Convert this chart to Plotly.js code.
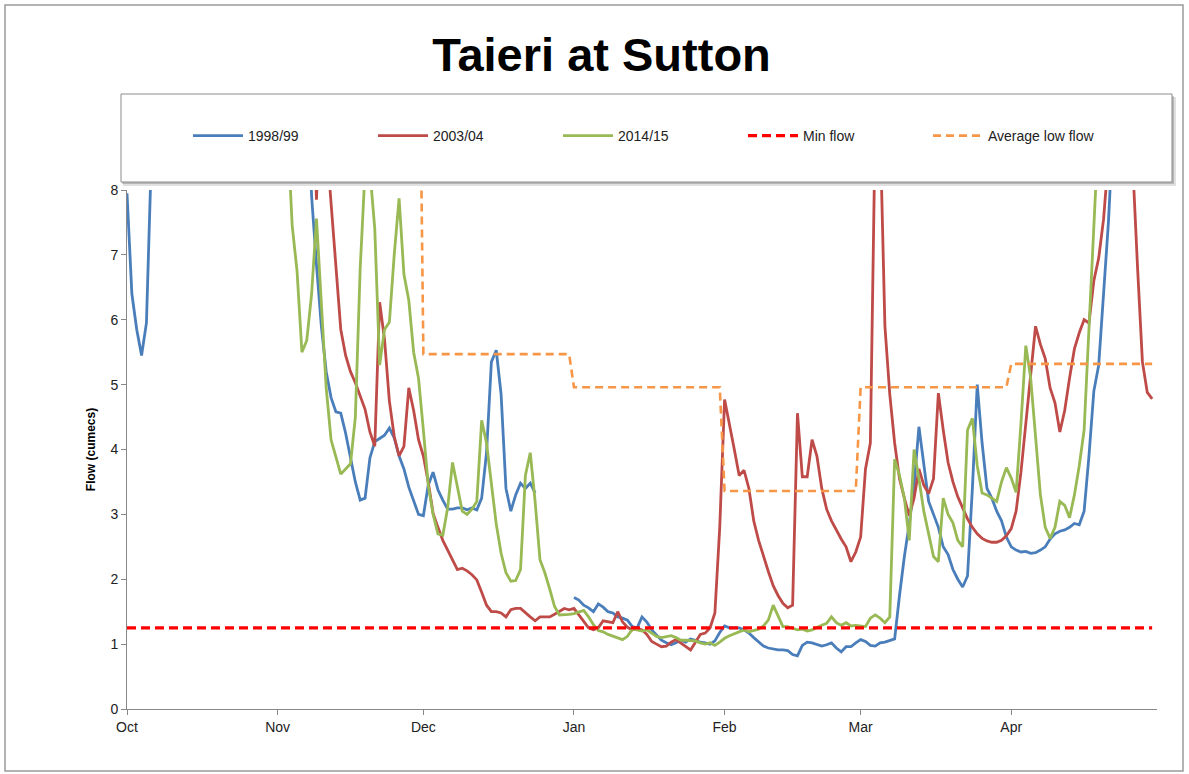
<!DOCTYPE html>
<html>
<head>
<meta charset="utf-8">
<script src="https://cdn.plot.ly/plotly-3.0.1.min.js"></script>
<style>
  html, body { margin: 0; padding: 0; background: #ffffff; }
  #chart { width: 1189px; height: 774px; }
</style>
</head>
<body>
<div id="chart"></div>
<script>
// ---- Data (daily flows, cumecs) - season day 0 = 1 Oct ----
// null = not shown / off the top of the chart (values above 8 are rough estimates of off-scale flow)
const seasonStart = [2000, 9, 1];   // common reference season Oct..Apr
const monthTicks = ['2000-10-01','2000-11-01','2000-12-01','2001-01-01','2001-02-01','2001-03-01','2001-04-01'];
const monthLabels = ['Oct','Nov','Dec','Jan','Feb','Mar','Apr'];
const axisEnd = '2001-05-01';

const flow1998 = [
  // Oct
  7.95,6.4,5.85,5.45,5.95,8.1,11,null,null,null,null,null,null,null,null,null,null,null,null,null,null,null,null,null,null,null,null,null,null,null,null,
  // Nov
  null,null,null,null,null,null,10,7.9,6.85,5.9,5.2,4.8,4.58,4.56,4.25,3.85,3.5,3.22,3.25,3.87,4.12,4.17,4.22,4.33,4.18,3.9,3.7,3.42,3.2,3.0,
  // Dec
  2.98,3.45,3.65,3.38,3.22,3.08,3.08,3.1,3.1,3.07,3.1,3.07,3.25,3.95,5.35,5.53,4.85,3.4,3.05,3.3,3.48,3.4,3.48,3.33,null,null,null,null,null,null,null,
  // Jan
  1.72,1.68,1.6,1.56,1.5,1.62,1.57,1.5,1.48,1.42,1.4,1.37,1.27,1.25,1.42,1.34,1.22,1.14,1.06,1.02,0.99,1.02,1.06,1.03,1.08,1.06,1.03,1.02,1.0,1.05,1.18,
  // Feb
  1.28,1.25,1.25,1.25,1.22,1.17,1.1,1.03,0.97,0.94,0.92,0.91,0.91,0.9,0.84,0.82,0.98,1.03,1.02,1.0,0.97,0.99,1.02,0.94,0.88,0.96,0.96,1.02,
  // Mar
  1.07,1.04,0.98,0.97,1.02,1.03,1.05,1.08,1.75,2.35,2.85,3.45,4.35,3.75,3.2,3.0,2.8,2.5,2.38,2.15,2.0,1.88,2.05,3.4,5.0,4.1,3.4,3.25,3.05,2.9,2.65,
  // Apr
  2.5,2.45,2.42,2.43,2.4,2.41,2.45,2.5,2.62,2.7,2.74,2.76,2.8,2.86,2.84,3.05,3.9,4.9,5.3,6.4,7.5,9.0,null,null,null,null,null,null,null,null
];

const flow2003 = [
  // Oct
  null,null,null,null,null,null,null,null,null,null,null,null,null,null,null,null,null,null,null,null,null,null,null,null,null,null,null,null,null,null,null,
  // Nov
  null,null,null,null,null,null,null,10,7.85,10,8.8,7.8,6.85,5.85,5.45,5.2,5.03,4.83,4.62,4.27,4.05,6.27,5.7,4.75,4.2,3.9,4.05,4.95,4.6,4.15,
  // Dec
  3.9,3.5,3.02,2.8,2.6,2.45,2.3,2.15,2.17,2.13,2.07,1.99,1.8,1.6,1.5,1.5,1.48,1.42,1.53,1.55,1.55,1.48,1.42,1.36,1.42,1.42,1.42,1.46,1.5,1.55,1.53,
  // Jan
  1.55,1.45,1.35,1.25,1.22,1.25,1.36,1.34,1.33,1.5,1.34,1.26,1.22,1.25,1.22,1.15,1.04,1.0,0.96,0.97,1.03,1.07,1.02,0.96,0.91,1.03,1.15,1.17,1.25,1.48,2.8,
  // Feb
  4.77,4.4,4.0,3.6,3.68,3.4,2.9,2.6,2.35,2.12,1.9,1.75,1.63,1.56,1.6,4.56,3.58,3.58,4.15,3.9,3.4,3.08,2.9,2.75,2.62,2.5,2.27,2.42,
  // Mar
  2.65,3.7,4.1,9.0,9.0,5.9,4.85,4.1,3.55,3.25,2.98,3.25,3.7,3.45,3.32,3.55,4.87,4.3,3.8,3.5,3.27,3.1,2.93,2.8,2.7,2.63,2.59,2.57,2.57,2.6,2.67,
  // Apr
  2.78,3.05,3.65,4.4,5.1,5.9,5.62,5.4,4.95,4.72,4.27,4.6,5.1,5.55,5.8,6.0,5.95,6.6,6.95,7.55,8.5,null,null,null,10,8.3,6.8,5.35,4.88,4.78
];

const flow2014 = [
  // Oct
  null,null,null,null,null,null,null,null,null,null,null,null,null,null,null,null,null,null,null,null,null,null,null,null,null,null,null,null,null,null,null,
  // Nov
  null,null,9.0,7.45,6.75,5.5,5.68,6.4,7.56,6.3,4.95,4.15,3.88,3.62,3.7,3.78,4.5,6.8,8.3,8.3,7.4,5.3,5.85,5.96,7.0,7.87,6.7,6.3,5.5,5.1,
  // Dec
  4.3,3.45,3.0,2.7,2.68,3.1,3.8,3.45,3.05,3.0,3.08,3.2,4.45,4.1,3.45,2.85,2.4,2.1,1.97,1.98,2.15,3.6,3.95,3.2,2.3,2.1,1.85,1.58,1.45,1.45,1.46,
  // Jan
  1.47,1.49,1.52,1.42,1.3,1.21,1.19,1.15,1.12,1.1,1.07,1.12,1.23,1.22,1.2,1.22,1.17,1.12,1.1,1.12,1.13,1.1,1.06,1.06,1.05,1.05,1.02,1.0,1.02,0.98,1.03,
  // Feb
  1.09,1.13,1.16,1.2,1.22,1.19,1.21,1.23,1.28,1.37,1.6,1.42,1.27,1.27,1.24,1.22,1.23,1.2,1.22,1.26,1.29,1.32,1.42,1.33,1.29,1.33,1.28,1.29,
  // Mar
  1.28,1.27,1.4,1.45,1.4,1.33,1.42,3.85,3.6,3.25,2.6,4.0,3.55,3.05,2.7,2.35,2.27,3.25,3.0,2.87,2.6,2.5,4.3,4.48,3.75,3.33,3.3,3.25,3.2,3.5,3.72,
  // Apr
  3.56,3.34,4.4,5.6,5.1,4.2,3.3,2.8,2.63,2.8,3.2,3.14,2.95,3.3,3.75,4.3,6.0,7.6,9.0,null,null,null,null,null,null,null,null,null,null,null
];

const minFlowDates = ['2000-10-01', '2001-04-30'];
const minFlowValues = [1.25, 1.25];

const avgLowDates  = ['2000-11-30','2000-12-01','2000-12-31','2001-01-01','2001-01-31','2001-02-01','2001-02-28','2001-03-01','2001-03-31','2001-04-01','2001-04-30'];
const avgLowValues = [12, 5.47, 5.47, 4.96, 4.96, 3.36, 3.36, 4.96, 4.96, 5.32, 5.32];

const seriesNames = ['1998/99','2003/04','2014/15','Min flow','Average low flow'];

// ---- helpers ----
function dayToDate(d) {
  const t = new Date(Date.UTC(seasonStart[0], seasonStart[1], seasonStart[2] + d));
  return t.toISOString().slice(0, 10);
}
function datesFor(arr) { return arr.map((_, i) => dayToDate(i)); }

const W = 1189, H = 774;
const M = { l: 127, r: 32, t: 190, b: 65 };
const PW = W - M.l - M.r, PH = H - M.t - M.b;
const px = x => (x - M.l) / PW;
const py = y => (H - M.b - y) / PH;

const FONT = 'Liberation Sans, Arial, sans-serif';

const traces = [
  { x: datesFor(flow1998), y: flow1998, name: seriesNames[0], type: 'scatter', mode: 'lines',
    line: { color: '#4A7EBB', width: 2.8 } },
  { x: datesFor(flow2003), y: flow2003, name: seriesNames[1], type: 'scatter', mode: 'lines',
    line: { color: '#BE4B48', width: 2.8 } },
  { x: datesFor(flow2014), y: flow2014, name: seriesNames[2], type: 'scatter', mode: 'lines',
    line: { color: '#98B954', width: 2.8 } },
  { x: minFlowDates, y: minFlowValues, name: seriesNames[3], type: 'scatter', mode: 'lines',
    line: { color: '#FF0000', width: 3.2, dash: '9px,5px' } },
  { x: avgLowDates, y: avgLowValues, name: seriesNames[4], type: 'scatter', mode: 'lines',
    line: { color: '#F79646', width: 2.6, dash: '8px,5px' } }
];

const layout = {
  width: W, height: H,
  margin: M,
  paper_bgcolor: '#ffffff',
  plot_bgcolor: '#ffffff',
  showlegend: true,
  font: { family: FONT, color: '#222222' },
  title: {
    text: 'Taieri at Sutton',
    font: { family: FONT, size: 47, color: '#000000', weight: 'bold' },
    x: 601.5 / W, xref: 'container', xanchor: 'center',
    y: 1 - 55 / H, yref: 'container', yanchor: 'middle'
  },
  legend: {
    orientation: 'h',
    x: px(188), xanchor: 'left',
    y: py(136), yanchor: 'middle',
    bgcolor: 'rgba(0,0,0,0)',
    borderwidth: 0,
    font: { family: FONT, size: 14, color: '#222222' },
    itemwidth: 50,
    entrywidth: 120,
    traceorder: 'normal'
  },
  xaxis: {
    type: 'date',
    range: [monthTicks[0], axisEnd],
    tickmode: 'array',
    tickvals: monthTicks,
    ticktext: monthLabels,
    ticks: 'outside', ticklen: 5, tickcolor: '#888888', tickwidth: 1,
    showline: true, linecolor: '#888888', linewidth: 1,
    showgrid: false, zeroline: false,
    tickfont: { family: FONT, size: 14, color: '#222222' },
    automargin: false, fixedrange: true
  },
  yaxis: {
    range: [0, 8],
    tickmode: 'linear', tick0: 0, dtick: 1,
    ticks: 'outside', ticklen: 5, tickcolor: '#888888', tickwidth: 1,
    showline: true, linecolor: '#888888', linewidth: 1,
    showgrid: false, zeroline: false,
    tickfont: { family: FONT, size: 14, color: '#222222' },
    title: { text: 'Flow (cumecs)', font: { family: FONT, size: 12, color: '#000000', weight: 'bold' }, standoff: 12 },
    automargin: false, fixedrange: true
  },
  shapes: [
    // chart area frame
    { type: 'rect', xref: 'paper', yref: 'paper', x0: px(5), x1: px(1183), y0: py(771), y1: py(5),
      line: { color: '#9a9a9a', width: 1.5 }, fillcolor: 'rgba(0,0,0,0)', layer: 'below' },
    // legend box shadow
    { type: 'rect', xref: 'paper', yref: 'paper', x0: px(123), x1: px(1176), y0: py(186), y1: py(97),
      line: { width: 0 }, fillcolor: 'rgba(0,0,0,0.12)', layer: 'below' },
    { type: 'rect', xref: 'paper', yref: 'paper', x0: px(122), x1: px(1174), y0: py(184), y1: py(96),
      line: { width: 0 }, fillcolor: 'rgba(0,0,0,0.18)', layer: 'below' },
    // legend box
    { type: 'rect', xref: 'paper', yref: 'paper', x0: px(121), x1: px(1172), y0: py(182), y1: py(94),
      line: { color: '#8c8c8c', width: 1 }, fillcolor: '#ffffff', layer: 'below' }
  ]
};

Plotly.newPlot('chart', traces, layout, { displayModeBar: false, staticPlot: true });
</script>
</body>
</html>
